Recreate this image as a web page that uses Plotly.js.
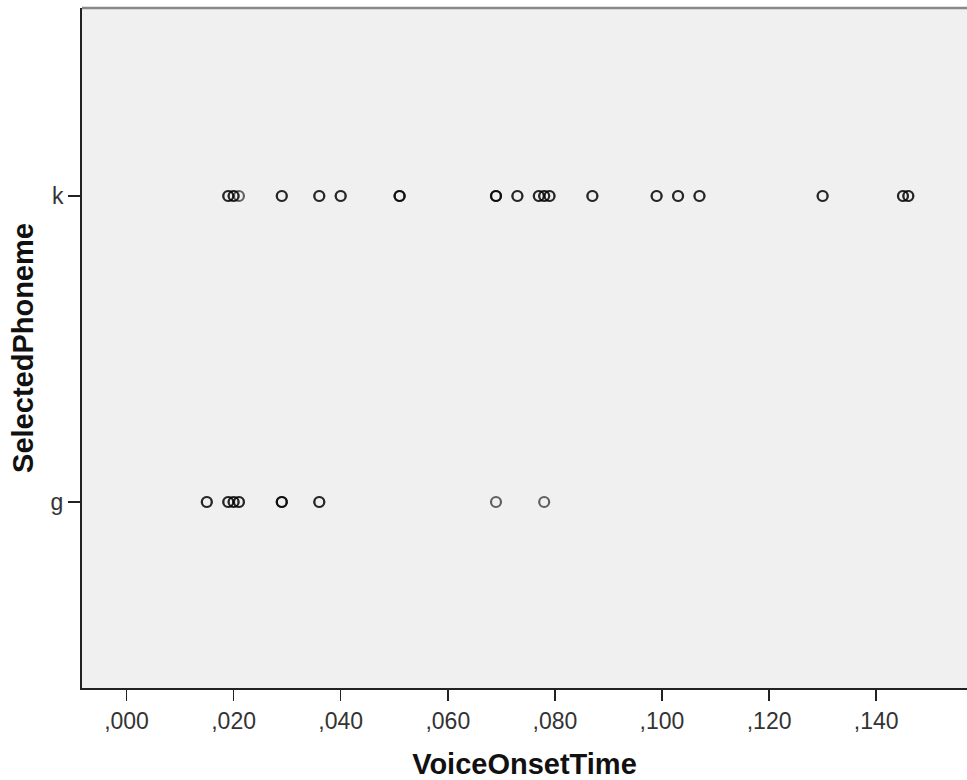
<!DOCTYPE html>
<html>
<head>
<meta charset="utf-8">
<script src="https://cdn.plot.ly/plotly-3.0.1.min.js"></script>
<style>html,body{margin:0;padding:0;background:#fff;}#chart{width:967px;height:780px;}</style>
</head>
<body>
<div id="chart"></div>
<script>
// Data (repeated values = overlapping points that look darker)
const phonemeCategories = ['g', 'k'];
const kValues = [0.019, 0.019, 0.020, 0.020, 0.021, 0.029, 0.029, 0.036, 0.036, 0.040, 0.040,
  0.051, 0.051, 0.051, 0.069, 0.069, 0.069, 0.073, 0.073, 0.077, 0.077, 0.078, 0.078, 0.079, 0.079,
  0.087, 0.087, 0.099, 0.099, 0.103, 0.103, 0.107, 0.107, 0.130, 0.130, 0.145, 0.145, 0.146, 0.146];
const gValues = [0.015, 0.015, 0.019, 0.019, 0.020, 0.020, 0.021, 0.021, 0.029, 0.029, 0.029, 0.036, 0.036, 0.069, 0.078];
const xTickVals = [0, 0.02, 0.04, 0.06, 0.08, 0.10, 0.12, 0.14];
const xTickText = [',000', ',020', ',040', ',060', ',080', ',100', ',120', ',140'];

const marker = {
  symbol: 'circle-open',
  size: 10,
  color: 'rgba(0,0,0,0.6)',
  line: {color: 'rgba(0,0,0,0.6)', width: 2.2}
};

const traces = [
  {x: gValues, y: gValues.map(() => 'g'), type: 'scatter', mode: 'markers', marker: marker, hoverinfo: 'x+y'},
  {x: kValues, y: kValues.map(() => 'k'), type: 'scatter', mode: 'markers', marker: marker, hoverinfo: 'x+y'}
];

const layout = {
  width: 967, height: 780,
  margin: {l: 82, r: 0, t: 8, b: 92},
  paper_bgcolor: '#ffffff',
  plot_bgcolor: '#f0f0f0',
  showlegend: false,
  font: {family: 'Liberation Sans, Arial, sans-serif', color: '#222'},
  xaxis: {
    range: [-0.00831, 0.15696],
    tickvals: xTickVals, ticktext: xTickText,
    ticks: 'outside', ticklen: 11, tickwidth: 1.5, tickcolor: '#222',
    tickfont: {size: 23, color: '#333'},
    showgrid: false, zeroline: false,
    showline: true, linecolor: '#222', linewidth: 2,
    title: {text: 'VoiceOnsetTime', font: {size: 29, color: '#111', family: 'Liberation Sans, Arial, sans-serif', weight: 'bold'}, standoff: 21},
    automargin: false
  },
  yaxis: {
    type: 'category',
    categoryorder: 'array', categoryarray: phonemeCategories,
    range: [-0.6078, 1.6144],
    ticks: 'outside', ticklen: 12, tickwidth: 1.5, tickcolor: '#222',
    tickfont: {size: 23, color: '#333'},
    showgrid: false, zeroline: false,
    showline: true, linecolor: '#222', linewidth: 2,
    title: {text: 'SelectedPhoneme', font: {size: 29, color: '#111', family: 'Liberation Sans, Arial, sans-serif', weight: 'bold'}, standoff: 8},
    automargin: false
  },
  shapes: [
    {type: 'line', xref: 'paper', yref: 'paper', x0: 0, x1: 1, y0: 1, y1: 1, line: {color: '#888', width: 2.5}}
  ]
};

Plotly.newPlot('chart', traces, layout, {displayModeBar: false, staticPlot: true});
</script>
</body>
</html>
